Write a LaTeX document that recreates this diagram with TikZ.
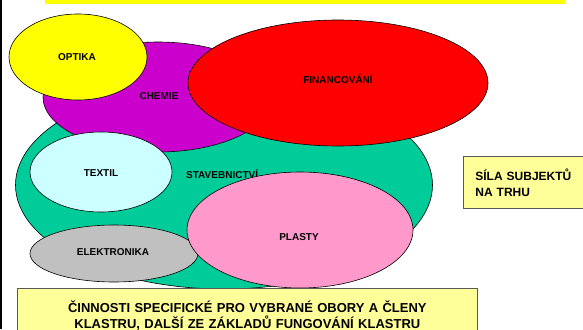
\documentclass[tikz,border=0pt]{standalone}
\usepackage{fontspec}
\setmainfont{Liberation Sans}
\usetikzlibrary{shapes.geometric}

\definecolor{optikaY}{HTML}{FFFF00}
\definecolor{chemieP}{HTML}{CC00CC}
\definecolor{financeR}{HTML}{FF0000}
\definecolor{stavbaG}{HTML}{00CC99}
\definecolor{textilC}{HTML}{CCFFFF}
\definecolor{elektroS}{HTML}{C0C0C0}
\definecolor{plastyP}{HTML}{FF99CC}
\definecolor{noteY}{HTML}{FFFF99}

\tikzset{
  blob/.style={ellipse, draw=black, line width=0.6pt, inner sep=0pt},
  lbl/.style={font=\bfseries\fontsize{10}{12}\selectfont, anchor=base, inner sep=0pt},
  notebox/.style={rectangle, draw=black!65, fill=noteY, line width=0.7pt}
}

\begin{document}
\begin{tikzpicture}[x=1pt, y=-1pt]
    \clip (0,0) rectangle (583,329);
    % Slide edges
    \fill[black] (0,0) rectangle (2,329);
    \fill[optikaY] (45,0) rectangle (565,4.5);

    % Define clusters, back to front
    \node[blob, fill=stavbaG, minimum width=417pt, minimum height=208pt] (stavba) at (224,185) {};
    \node[lbl, anchor=base west] (stavbaL) at (186,178.6) {STAVEBNICTVÍ};

    \node[blob, fill=chemieP, minimum width=230pt, minimum height=110pt] (chemie) at (158,97) {};
    \node[lbl] (chemieL) at (159,99.6) {CHEMIE};

    \node[blob, fill=optikaY, minimum width=138pt, minimum height=86pt] (optika) at (78,57) {};
    \node[lbl] (optikaL) at (77,60.6) {OPTIKA};

    \node[blob, fill=financeR, minimum width=300pt, minimum height=126pt] (finance) at (338,83) {};
    \node[lbl] (financeL) at (338,83.6) {FINANCOVÁNÍ};

    \node[blob, fill=textilC, minimum width=142pt, minimum height=80pt] (textil) at (101,172) {};
    \node[lbl] (textilL) at (101,176.3) {TEXTIL};

    \node[blob, fill=elektroS, minimum width=168pt, minimum height=57pt] (elektro) at (114,253.5) {};
    \node[lbl] (elektroL) at (113,255.5) {ELEKTRONIKA};

    \node[blob, fill=plastyP, minimum width=226pt, minimum height=116pt] (plasty) at (300,230) {};
    \node[lbl] (plastyL) at (299,240) {PLASTY};

    % Text boxes
    \node[notebox, anchor=north west, text width=126pt, inner xsep=12pt, minimum height=52pt, align=left,
          font=\bfseries\fontsize{12}{16}\selectfont] (sila) at (463,156) {SÍLA SUBJEKTŮ\\NA TRHU};
    \node[notebox, anchor=north west, text width=440pt, inner xsep=10pt, inner ysep=12.6pt, align=center,
          font=\bfseries\fontsize{13}{16}\selectfont] (cinnosti) at (17,288)
          {ČINNOSTI SPECIFICKÉ PRO VYBRANÉ OBORY A ČLENY\\KLASTRU, DALŠÍ ZE ZÁKLADŮ FUNGOVÁNÍ KLASTRU};
\end{tikzpicture}
\end{document}
